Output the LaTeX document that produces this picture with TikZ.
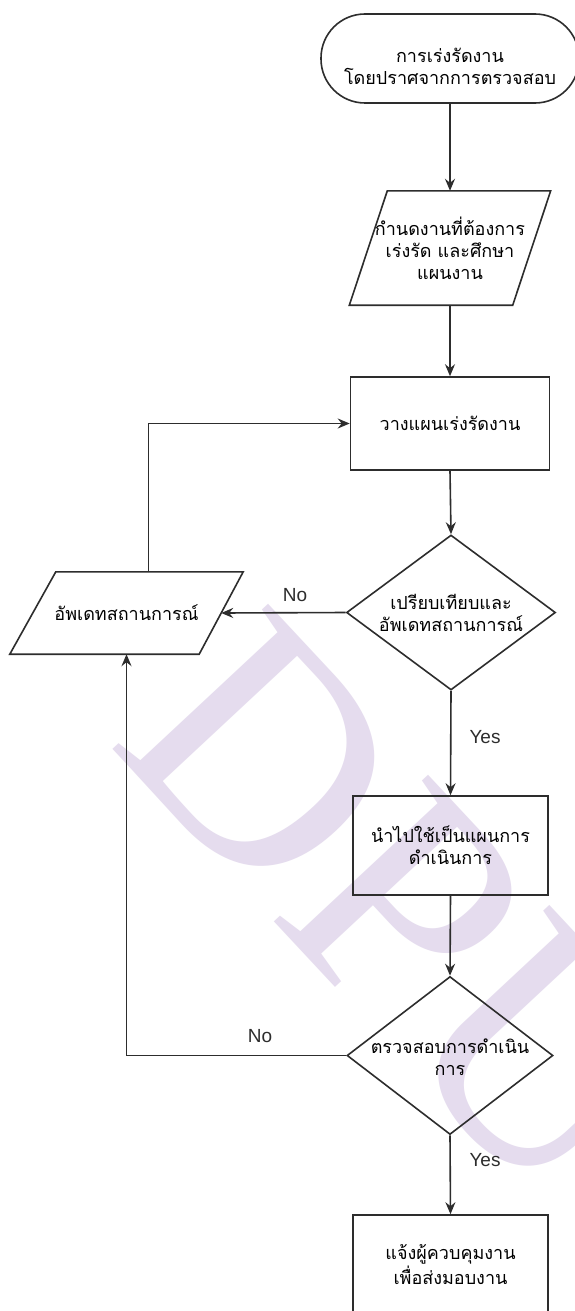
\documentclass[tikz,border=0pt]{standalone}
\usepackage{fontspec}
\newfontfamily\thaifont[Script=Thai]{Loma}
\newfontfamily\labelfont{Liberation Sans}
\newfontfamily\markfont{Liberation Serif}
\usetikzlibrary{shapes.geometric,arrows.meta,calc}
\definecolor{ink}{RGB}{45,45,45}
\definecolor{wmpurple}{RGB}{229,220,238}
\tikzset{
  thaitext/.style={font=\thaifont\fontsize{18pt}{22pt}\selectfont, align=center, text=black},
  box/.style={thaitext, draw=ink, line width=1.6pt, rectangle, inner sep=0pt},
  decision/.style={draw=ink, line width=1.6pt, diamond, inner sep=0pt},
  frame/.style={thaitext, rectangle, inner sep=0pt},
  outline/.style={draw=ink, line width=1.6pt, line join=miter},
  flow/.style={draw=ink, line width=1.6pt, -{Stealth[length=12pt,width=10pt,inset=4pt]}},
  lbl/.style={font=\labelfont\fontsize{19pt}{22pt}\selectfont, text=ink, inner sep=0pt}
}
\begin{document}
\begin{tikzpicture}[x=1pt,y=-1pt]
\useasboundingbox (0,0) rectangle (574,1311);
\fill[white] (0,0) rectangle (574,1311);

% faint watermark behind the chart
\node[font=\markfont\fontsize{325pt}{325pt}\selectfont, text=wmpurple,
      rotate=-47, anchor=base west, inner sep=0pt] (wmark) at (106,742) {DPU};

% terminal
\node[draw=ink, line width=1.6pt, rounded corners=44pt, minimum width=258pt, minimum height=89pt] (start) at (450,58.5) {};
\node[thaitext] (starttxt) at (450,66) {การเร่งรัดงาน\\โดยปราศจากการตรวจสอบ};

% input: select the work
\node[frame, minimum width=201pt, minimum height=114pt] (inp) at (450,248)
  {กำนดงานที่ต้องการ\\เร่งรัด และศึกษา\\แผนงาน};
\draw[outline] ($(inp.north west)+(38,0)$) -- (inp.north east)
  -- ($(inp.south east)+(-38,0)$) -- (inp.south west) -- cycle;

% planning
\node[box, minimum width=199pt, minimum height=93pt] (plan) at (450,423.5) {วางแผนเร่งรัดงาน};

% compare decision
\node[decision, minimum width=209pt, minimum height=155pt] (cmp) at (451,612.5) {};
\node[thaitext] (cmptxt) at (451,613) {เปรียบเทียบและ\\อัพเดทสถานการณ์};

% update situation
\node[frame, minimum width=233pt, minimum height=82pt] (upd) at (126.5,613) {อัพเดทสถานการณ์};
\draw[outline] ($(upd.north west)+(46,0)$) -- (upd.north east)
  -- ($(upd.south east)+(-44,0)$) -- (upd.south west) -- cycle;

% apply as plan
\node[box, minimum width=195pt, minimum height=99pt] (act) at (450.5,845.5)
  {นำไปใช้เป็นแผนการ\\ดำเนินการ};

% check decision
\node[decision, minimum width=206pt, minimum height=158pt] (chk) at (450,1055.5) {};
\node[thaitext] (chktxt) at (450,1057) {ตรวจสอบการดำเนิน\\การ};

% notify
\node[box, minimum width=195pt, minimum height=99pt] (fin) at (450.5,1264.5)
  {แจ้งผู้ควบคุมงาน\\เพื่อส่งมอบงาน};

% connectors
\draw[flow] (start.south) -- (inp.north);
\draw[flow] (inp.south) -- (plan.north);
\draw[flow] (plan.south) -- (cmp.north);
\draw[flow] (cmp.west) -- ($(upd.east)+(-22,0)$);
\draw[flow] (cmp.south) -- (act.north);
\draw[flow] (act.south) -- (chk.north);
\draw[flow] (chk.west) -| (upd.south);
\draw[flow] (chk.south) -- (fin.north);
\draw[flow] ($(upd.north)+(22,0)$) |- (plan.west);

% branch labels
\node[lbl] (no1) at (295,595) {No};
\node[lbl] (yes1) at (485,737) {Yes};
\node[lbl] (no2) at (260,1036) {No};
\node[lbl] (yes2) at (485,1160) {Yes};
\end{tikzpicture}
\end{document}
